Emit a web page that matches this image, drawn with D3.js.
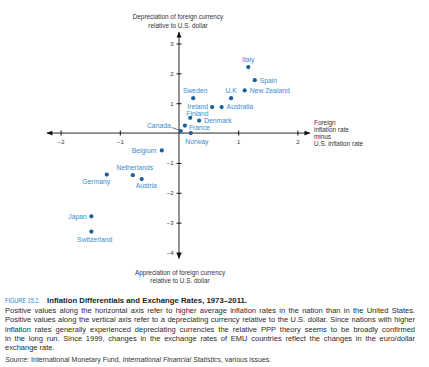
<!DOCTYPE html>
<html><head><meta charset="utf-8">
<script src="https://cdn.jsdelivr.net/npm/d3@7"></script>
<style>
body{margin:0;background:#fff;}
svg{display:block;font-family:"Liberation Sans",Arial,sans-serif;}
</style></head><body>
<svg id="c" width="429" height="367"></svg>
<script>
const countries = ["Italy","Spain","New Zealand","U.K","Sweden","Ireland","Australia","Finland","Denmark","France","Canada","Norway","Belgium","Netherlands","Austria","Germany","Japan","Switzerland"];
const inflationDiff = [1.17,1.28,1.11,0.88,0.24,0.56,0.72,0.19,0.34,0.10,0.03,0.20,-0.29,-0.78,-0.63,-1.22,-1.48,-1.48];
const currencyDep = [2.21,1.77,1.43,1.17,1.17,0.87,0.87,0.51,0.42,0.25,0.07,0.00,-0.58,-1.41,-1.54,-1.39,-2.79,-3.30];
const xTicks = [-2,-1,1,2];
const yTicks = [-4,-3,-2,-1,1,2,3];

// label placement (layout only): [dx, dy, anchor]
const labelPos = {
 "Italy":[0,-7,"middle"],"Spain":[5,0,"start"],"New Zealand":[5,0,"start"],"U.K":[0,-8,"middle"],
 "Sweden":[2,-7.5,"middle"],"Ireland":[-4,-0.5,"end"],"Australia":[5,0,"start"],"Finland":[-4,-4.5,"start"],
 "Denmark":[5,0,"start"],"France":[4,2.5,"start"],"Canada":[-10,-5,"end"],"Norway":[-5.5,9,"start"],
 "Belgium":[-5.5,0,"end"],"Netherlands":[2,-7.5,"middle"],"Austria":[4.5,7,"middle"],"Germany":[-10.5,7,"middle"],
 "Japan":[-4.5,0,"end"],"Switzerland":[3.3,8.5,"middle"]
};

const svg = d3.select("#c");
const x = d3.scaleLinear().domain([-2,2]).range([60.6,297.4]);
const y = d3.scaleLinear().domain([-4,3]).range([252.5,43.5]);
const x0 = x(0), y0 = y(0);

const defs = svg.append("defs");
defs.append("marker").attr("id","ar").attr("viewBox","0 0 10 10").attr("refX",9).attr("refY",5)
 .attr("markerWidth",8).attr("markerHeight",6).attr("markerUnits","userSpaceOnUse").attr("orient","auto-start-reverse")
 .append("path").attr("d","M0,1 L10,5 L0,9 Z").attr("fill","#111");

svg.append("line").attr("x1",x(-2.23)).attr("x2",x(2.21)).attr("y1",y0).attr("y2",y0)
 .attr("stroke","#111").attr("stroke-width",0.9).attr("marker-start","url(#ar)").attr("marker-end","url(#ar)");
svg.append("line").attr("x1",x0).attr("x2",x0).attr("y1",y(3.38)).attr("y2",y(-4.2))
 .attr("stroke","#111").attr("stroke-width",0.9).attr("marker-start","url(#ar)").attr("marker-end","url(#ar)");

const gx = svg.append("g").attr("transform",`translate(0,${y0})`)
 .call(d3.axisBottom(x).tickValues(xTicks).tickSize(2.5).tickPadding(4).tickFormat(d=>d<0?"\u2212"+Math.abs(d):d));
gx.select(".domain").remove();
gx.selectAll(".tick line").attr("y1",-2.5).attr("stroke","#111");
gx.selectAll(".tick text").attr("font-size",6).attr("fill","#333").attr("font-family","Liberation Sans,Arial,sans-serif");

const gy = svg.append("g").attr("transform",`translate(${x0},0)`)
 .call(d3.axisLeft(y).tickValues(yTicks).tickSize(2.5).tickPadding(3).tickFormat(d=>d<0?"\u2212"+Math.abs(d):d));
gy.select(".domain").remove();
gy.selectAll(".tick line").attr("x1",2.5).attr("stroke","#111");
gy.selectAll(".tick text").attr("font-size",6).attr("fill","#333").attr("font-family","Liberation Sans,Arial,sans-serif");

const tstyle = s=>s.attr("font-size",6.4).attr("fill","#333");
svg.append("text").attr("x",178).attr("y",19).attr("text-anchor","middle").text("Depreciation of foreign currency").call(tstyle);
svg.append("text").attr("x",178).attr("y",27.5).attr("text-anchor","middle").text("relative to U.S. dollar").call(tstyle);
svg.append("text").attr("x",180).attr("y",275).attr("text-anchor","middle").text("Appreciation of foreign currency").call(tstyle);
svg.append("text").attr("x",180).attr("y",282.5).attr("text-anchor","middle").text("relative to U.S. dollar").call(tstyle);
["Foreign","inflation rate","minus","U.S. inflation rate"].forEach((t,i)=>{
 svg.append("text").attr("x",314).attr("y",124.5+i*7.3).text(t).call(tstyle);
});

const ci = countries.indexOf("Canada");
svg.append("line").attr("x1",x(inflationDiff[ci])-9).attr("y1",y(currencyDep[ci])-3.5)
 .attr("x2",x(inflationDiff[ci])-1.5).attr("y2",y(currencyDep[ci])-0.8).attr("stroke","#222").attr("stroke-width",0.6);

const data = countries.map((c,i)=>({c,x:inflationDiff[i],y:currencyDep[i]}));
svg.append("g").selectAll("circle").data(data).join("circle")
 .attr("cx",d=>x(d.x)).attr("cy",d=>y(d.y)).attr("r",2.1).attr("fill","#1d5f98");
svg.append("g").selectAll("text").data(data).join("text")
 .attr("x",d=>x(d.x)+labelPos[d.c][0]).attr("y",d=>y(d.y)+labelPos[d.c][1])
 .attr("dy","0.35em").attr("text-anchor",d=>labelPos[d.c][2])
 .attr("font-size",6.8).attr("fill","#3a8dd0").text(d=>d.c);

// caption
svg.append("text").attr("x",5).attr("y",302.5).attr("font-size",7.2).attr("fill","#2a86cc")
 .attr("textLength",35).attr("lengthAdjust","spacingAndGlyphs").text("FIGURE 15.2.");
svg.append("text").attr("x",47).attr("y",302.5).attr("font-size",7.4).attr("font-weight","bold").attr("fill","#222")
 .attr("textLength",200).attr("lengthAdjust","spacingAndGlyphs").text("Inflation Differentials and Exchange Rates, 1973\u20132011.");
const lines = [
 ["Positive values along the horizontal axis refer to higher average inflation rates in the nation than in the United States.",true],
 ["Positive values along the vertical axis refer to a depreciating currency relative to the U.S. dollar. Since nations with higher",true],
 ["inflation rates generally experienced depreciating currencies the relative PPP theory seems to be broadly confirmed",true],
 ["in the long run. Since 1999, changes in the exchange rates of EMU countries reflect the changes in the euro/dollar",true],
 ["exchange rate.",false]
];
lines.forEach((l,i)=>{
 const t = svg.append("text").attr("x",5).attr("y",313.3+i*9.1).attr("font-size",7.5).attr("fill","#2a2a2a").text(l[0]);
 if(l[1]){
  let len = t.node().getComputedTextLength();
  if(len > 410){ t.attr("textLength",410).attr("lengthAdjust","spacingAndGlyphs"); }
  else {
   const spaces = (l[0].match(/ /g)||[]).length;
   t.attr("word-spacing",(410-len)/spaces);
  }
 }
});
const src = svg.append("text").attr("x",5).attr("y",361.5).attr("font-size",7).attr("fill","#333");
src.append("tspan").text("Source: ").attr("font-style","italic");
src.append("tspan").text("International Monetary Fund, ");
src.append("tspan").text("International Financial Statistics").attr("font-style","italic");
src.append("tspan").text(", various issues.");
</script></body></html>
